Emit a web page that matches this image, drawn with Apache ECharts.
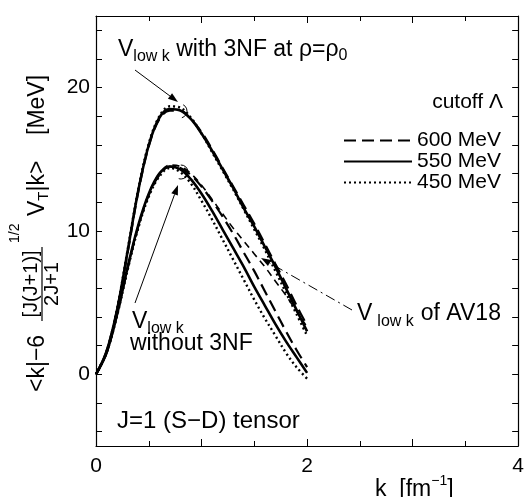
<!DOCTYPE html>
<html><head><meta charset="utf-8">
<script src="https://cdn.jsdelivr.net/npm/echarts@6/dist/echarts.min.js"></script>
<style>html,body{margin:0;padding:0;background:#fff}#c{width:527px;height:497px}</style>
</head><body><div id="c"></div>
<script>
// ---- data ----
const kValues   = [0, 0.1, 0.2, 0.3, 0.4, 0.5, 0.6, 0.7, 0.8, 0.9, 1.0, 1.1, 1.2, 1.3, 1.4, 1.5, 1.6, 1.7, 1.8, 1.9, 2.0];
// with 3NF at rho = rho0
const upper600  = [0, 1.6, 4.5, 8.5, 12.7, 15.9, 17.8, 18.4, 18.4, 17.8, 16.9, 15.7, 14.4, 13.1, 11.8, 10.5, 9.1, 7.7, 6.3, 4.8, 3.4];
const upper550  = [0, 1.6, 4.5, 8.6, 12.8, 16.0, 17.9, 18.5, 18.4, 17.8, 16.8, 15.6, 14.3, 13.0, 11.6, 10.3, 8.9, 7.5, 6.0, 4.5, 3.0];
const upper450  = [0, 1.6, 4.6, 8.7, 12.9, 16.1, 18.0, 18.7, 18.6, 17.9, 16.8, 15.5, 14.2, 12.9, 11.5, 10.1, 8.7, 7.2, 5.7, 4.2, 2.7];
// without 3NF
const lower600  = [0, 1.5, 4.2, 7.4, 10.3, 12.5, 13.9, 14.5, 14.4, 13.9, 13.1, 12.1, 11.0, 9.8, 8.5, 7.2, 5.8, 4.4, 3.0, 1.7, 0.5];
const lower550  = [0, 1.5, 4.2, 7.5, 10.4, 12.6, 14.0, 14.5, 14.3, 13.6, 12.6, 11.4, 10.1, 8.8, 7.5, 6.1, 4.8, 3.5, 2.3, 1.2, 0.1];
const lower450  = [0, 1.5, 4.1, 7.3, 10.2, 12.4, 13.8, 14.4, 14.1, 13.3, 12.1, 10.8, 9.4, 8.0, 6.6, 5.2, 3.9, 2.7, 1.5, 0.5, -0.3];
// V_low k of AV18
const av18      = [0, 1.5, 4.2, 7.4, 10.3, 12.6, 14.0, 14.6, 14.5, 14.0, 13.2, 12.2, 11.2, 10.2, 9.3, 8.4, 7.5, 6.5, 5.5, 4.4, 3.3];

const legendNames  = ['600 MeV', '550 MeV', '450 MeV'];
const xTickLabels  = [0, 2, 4];
const yTickLabels  = ['0', '10', '20'];
const yTickMarks   = ['-5','-4','-3','-2','-1','0','1','2','3','4','5','6','7','8','9','10','11','12','13','14','15','16','17','18','19','20','21','22','23','24','25'];

// ---- helpers ----
const FONT = '"Liberation Sans", Arial, Helvetica, sans-serif';
const mctx = document.createElement('canvas').getContext('2d');
function tw(t, size) { mctx.font = size + 'px ' + FONT; return mctx.measureText(t).width; }
function txt(x, y, t, size, align) {
  align = align || 'left';
  return { type: 'text', x: x, y: y, silent: true,
    style: { text: t, font: size + 'px ' + FONT, fill: '#000',
      align: align, verticalAlign: 'middle', textAlign: align, textVerticalAlign: 'middle' } };
}
function seq(x, y, parts) {
  const out = []; let cx = x;
  for (const p of parts) {
    out.push(txt(cx, y + (p.dy || 0), p.t, p.s));
    cx += tw(p.t, p.s) + (p.gap || 0);
  }
  return out;
}
function arrow(x1, y1, x2, y2, dash) {
  const a = Math.atan2(y2 - y1, x2 - x1), L = 10, W = 3.5;
  const bx = x2 - L * Math.cos(a), by = y2 - L * Math.sin(a);
  const px = -Math.sin(a) * W, py = Math.cos(a) * W;
  return [
    { type: 'line', silent: true, shape: { x1: x1, y1: y1, x2: bx, y2: by },
      style: { stroke: '#000', lineWidth: 1, lineDash: dash || null } },
    { type: 'polygon', silent: true, shape: { points: [[x2, y2], [bx + px, by + py], [bx - px, by - py]] },
      style: { fill: '#000' } }
  ];
}

function mk(name, ys, ls, z) {
  return { type: 'line', name: name, xAxisIndex: 0, yAxisIndex: 0, smooth: 0.35,
    symbol: 'none', z: z || 2, data: kValues.map((k, i) => [k, ys[i]]),
    lineStyle: Object.assign({ color: '#000' }, ls), itemStyle: { color: '#000' } };
}
const DASH = { width: 2.2, type: [12, 6] };
const SOLID = { width: 2.6, type: 'solid' };
const DOT = { width: 2.4, type: [2, 3] };

const chart = echarts.init(document.getElementById('c'), null, { renderer: 'canvas' });

// y-axis title (rotated)
const yTitle = [].concat(
  [txt(0, 0, '<k|\u22126', 23)],
  [txt(108, -7, '[J(J+1)]', 20, 'center'),
   { type: 'line', silent: true, shape: { x1: 71, y1: 4, x2: 145, y2: 4 }, style: { stroke: '#000', lineWidth: 1.2 } },
   txt(108, 14, '2J+1', 20, 'center'),
   txt(149, -23, '1/2', 14)],
  seq(176, 0, [{ t: 'V', s: 23 }, { t: 'T', s: 15, dy: 6 }, { t: '|k>', s: 23 }]),
  [txt(257, 0, '[MeV]', 23)]
);

const graphics = [].concat(
  [{ type: 'group', x: 38, y: 392, rotation: Math.PI / 2, children: yTitle }],
  seq(118, 50, [{ t: 'V', s: 23 }, { t: 'low k', s: 16, dy: 7 }, { t: ' with 3NF at \u03c1=\u03c1', s: 23 }, { t: '0', s: 16, dy: 6 }]),
  seq(132, 322, [{ t: 'V', s: 23 }, { t: 'low k', s: 16, dy: 7 }]),
  [txt(130, 344, 'without 3NF', 23)],
  seq(357, 314, [{ t: 'V', s: 23, gap: 5 }, { t: 'low k', s: 16, dy: 8, gap: 7 }, { t: 'of AV18', s: 23 }]),
  [txt(117, 421, 'J=1 (S\u2212D) tensor', 24)],
  [txt(503, 102, 'cutoff \u039b', 21, 'right')],
  seq(375, 490, [{ t: 'k  [fm', s: 23 }, { t: '\u22121', s: 14, dy: -9 }, { t: ']', s: 23 }]),
  arrow(135, 70, 178, 102),
  arrow(135, 303, 178, 185),
  arrow(352, 310, 261, 258, [10, 4, 2, 4]),
  [{ type: 'arc', silent: true, shape: { cx: 180, cy: 111, r: 7, startAngle: -1.1, endAngle: 1.3 }, style: { stroke: '#000', fill: null, lineWidth: 1 } },
   { type: 'arc', silent: true, shape: { cx: 181, cy: 172, r: 7, startAngle: -1.6, endAngle: 1.9 }, style: { stroke: '#000', fill: null, lineWidth: 1 } }]
);

const axisLine = { show: true, onZero: false, lineStyle: { color: '#000', width: 1.2 } };
const tick = { show: true, inside: true, length: 7, lineStyle: { color: '#000', width: 1 } };
chart.setOption({
  animation: false,
  backgroundColor: '#fff',
  grid: { left: 96, top: 16, right: 5, bottom: 51, containLabel: false },
  legend: { show: true, data: legendNames, orient: 'vertical', left: 338, top: 125,
    itemWidth: 68, itemHeight: 14, itemGap: 0, selectedMode: false,
    itemStyle: { opacity: 0, color: 'rgba(0,0,0,0)', borderWidth: 0 },
    textStyle: { fontSize: 21, lineHeight: 20, color: '#000', fontFamily: FONT } },
  xAxis: [
    { type: 'value', position: 'bottom', min: 0, max: 4, interval: 1,
      axisLine: axisLine, splitLine: { show: false }, axisTick: tick,
      minorTick: { show: true, splitNumber: 2, length: 5, lineStyle: { color: '#000' } },
      axisLabel: { show: true, margin: 10, fontSize: 21, color: '#000', fontFamily: FONT,
        formatter: v => (xTickLabels.indexOf(v) >= 0 ? String(v) : '') } },
    { type: 'value', position: 'top', min: 0, max: 4, interval: 1,
      axisLine: axisLine, splitLine: { show: false }, axisLabel: { show: false }, axisTick: tick,
      minorTick: { show: true, splitNumber: 2, length: 5, lineStyle: { color: '#000' } } }
  ],
  yAxis: [
    { type: 'value', min: -5, max: 25, show: false },
    { type: 'category', position: 'left', data: yTickMarks, boundaryGap: false,
      axisLine: axisLine, splitLine: { show: false },
      axisTick: Object.assign({}, tick, { length: 6, interval: (i, v) => Number(v) % 2 === 0 }),
      axisLabel: { show: true, margin: 6, fontSize: 21, color: '#000', fontFamily: FONT,
        interval: (i, v) => yTickLabels.indexOf(v) >= 0 } },
    { type: 'category', position: 'right', data: yTickMarks, boundaryGap: false,
      axisLine: axisLine, splitLine: { show: false }, axisLabel: { show: false },
      axisTick: Object.assign({}, tick, { length: 6, interval: (i, v) => Number(v) % 2 === 0 }) }
  ],
  series: [
    mk('600 MeV', upper600, DASH), mk('550 MeV', upper550, SOLID), mk('450 MeV', upper450, DOT),
    mk('600 MeV', lower600, DASH), mk('550 MeV', lower550, SOLID), mk('450 MeV', lower450, DOT),
    mk('AV18', av18, { width: 1.6, type: [7, 5] })
  ],
  graphic: graphics
});
</script>
</body></html>
